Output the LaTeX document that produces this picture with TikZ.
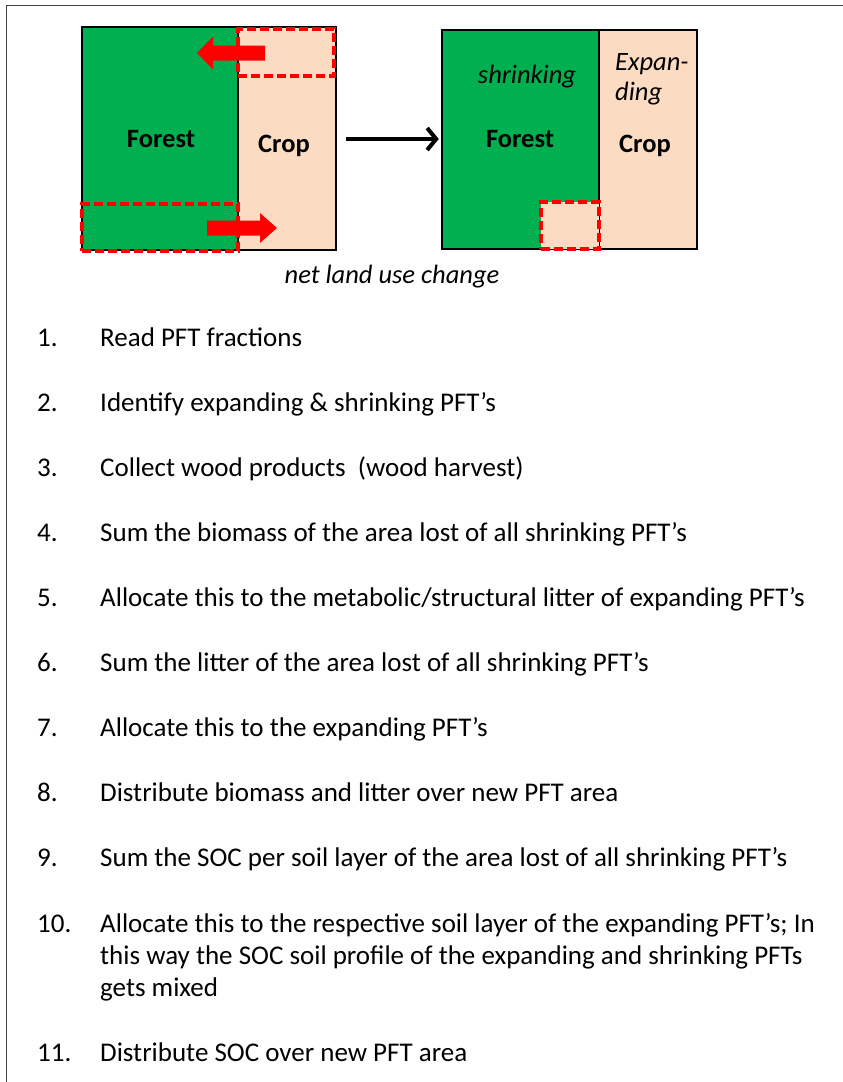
\documentclass[tikz,border=0pt]{standalone}
\usepackage{fontspec}
\setmainfont{Carlito}
\usepackage{tikz}
\usetikzlibrary{arrows.meta, positioning}
\definecolor{forestgreen}{RGB}{0,176,80}
\definecolor{cropcolor}{RGB}{251,219,193}
\definecolor{lossred}{RGB}{255,0,0}

\begin{document}
\begin{tikzpicture}[x=1pt, y=-1pt,
    landbox/.style={rectangle, draw=black, line width=2.5pt, inner sep=0pt},
    lostarea/.style={rectangle, draw=lossred, line width=3.5pt, dash pattern=on 9pt off 4pt, inner sep=0pt},
    flowarrow/.style={fill=lossred},
    lbl/.style={font=\fontsize{26.5}{30}\selectfont\bfseries, anchor=base},
    itlbl/.style={font=\fontsize{26.5}{30}\selectfont\itshape, anchor=base},
    num/.style={anchor=base west, inner sep=0pt, font=\fontsize{27}{32}\selectfont},
    item/.style={anchor=base west, inner sep=0pt, align=left, font=\fontsize{27}{32}\selectfont}
]
\useasboundingbox (0,0) rectangle (843,1082);
\draw[line width=1pt, black!75] (6,1082) -- (6,5) -- (843,5);

% before: forest and crop
\node[landbox, fill=forestgreen, minimum width=156pt, minimum height=223pt] (forestA) at (160,138.5) {};
\node[landbox, fill=cropcolor, minimum width=98pt, minimum height=223pt] (cropA) at (287,138.5) {};
\node[lostarea, minimum width=96pt, minimum height=47pt] (lostA) at (286,52.5) {};
\node[lostarea, minimum width=156pt, minimum height=47pt] (lostB) at (160,227.5) {};
\fill[flowarrow] (197,53) -- ++(16,-16.5) -- ++(0,9) -- ++(52,0) -- ++(0,15) -- ++(-52,0) -- ++(0,9) -- cycle;
\fill[flowarrow] (277,228) -- ++(-17,-15) -- ++(0,7.5) -- ++(-53,0) -- ++(0,15) -- ++(53,0) -- ++(0,7.5) -- cycle;
\node[lbl] (forestAlbl) at (161,147) {Forest};
\node[lbl] (cropAlbl) at (284,152) {Crop};

% after: shrinking forest, expanding crop
\node[landbox, fill=forestgreen, minimum width=157pt, minimum height=219pt] (forestB) at (520.5,139.5) {};
\node[landbox, fill=cropcolor, minimum width=98pt, minimum height=219pt] (cropB) at (648,139.5) {};
\node[lostarea, fill=cropcolor, minimum width=58pt, minimum height=47pt] (gained) at (570,225.5) {};
\node[itlbl] (shrink) at (527,83) {shrinking};
\node[lbl] (forestBlbl) at (520,147) {Forest};
\node[itlbl, anchor=base west, inner sep=0pt] (expand1) at (615,70) {Expan-};
\node[itlbl, anchor=base west, inner sep=0pt] (expand2) at (615,100) {ding};
\node[lbl] (cropBlbl) at (645,152) {Crop};

\draw[-{Straight Barb[length=9pt, width=22pt]}, line width=4pt, shorten <=9pt, shorten >=2pt]
    (cropA.east |- 0,139) -- (forestB.west |- 0,139);
\node[itlbl] (netlbl) at (392,283) {net land use change};

% steps
\foreach \i/\txt in {1/{Read PFT fractions},
                     2/{Identify expanding \& shrinking PFT’s},
                     3/{Collect wood products \ (wood harvest)},
                     4/{Sum the biomass of the area lost of all shrinking PFT’s},
                     5/{Allocate this to the metabolic/structural litter of expanding PFT’s},
                     6/{Sum the litter of the area lost of all shrinking PFT’s},
                     7/{Allocate this to the expanding PFT’s},
                     8/{Distribute biomass and litter over new PFT area},
                     9/{Sum the SOC per soil layer of the area lost of all shrinking PFT’s}} {
    \node[num] (n\i) at (37,{346+65.1*(\i-1)}) {\i.};
    \node[item] (t\i) at (100,{346+65.1*(\i-1)}) {\txt};
}
\node[num] (n10) at (37,932) {10.};
\node[item] (t10) at (100,996) {Allocate this to the respective soil layer of the expanding PFT’s; In\\
    this way the SOC soil profile of the expanding and shrinking PFTs\\ gets mixed};
\node[num] (n11) at (37,1061) {11.};
\node[item] (t11) at (100,1061) {Distribute SOC over new PFT area};
\end{tikzpicture}
\end{document}
